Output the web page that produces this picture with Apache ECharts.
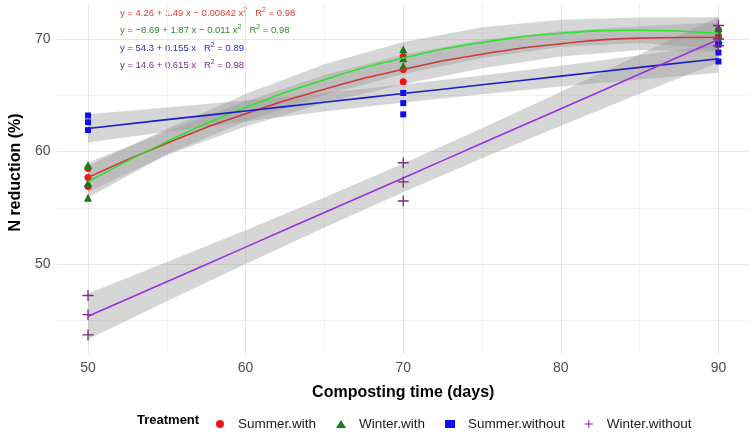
<!DOCTYPE html>
<html>
<head>
<meta charset="utf-8">
<script src="https://cdn.jsdelivr.net/npm/echarts@6/dist/echarts.min.js"></script>
<style>
  html, body { margin: 0; padding: 0; background: #fff; }
  #main { width: 750px; height: 439px; }
</style>
</head>
<body>
<div id="main"></div>
<script>
// sampling days
const days = [50, 70, 90];
// days where the fitted curves / bands were read
const fitDays = [50, 55, 60, 65, 70, 75, 80, 85, 90];

// N reduction (%), three replicates per sampling day
const summerWith = [[58.5, 57.7, 56.9], [68.45, 67.3, 66.2], [70.8, 70.1, 69.6]];
const winterWith = [[58.8, 57.2, 55.9], [69.1, 68.3, 67.6], [71.0, 70.6, 70.0]];
const summerWithout = [[63.2, 62.6, 61.9], [65.2, 64.3, 63.3], [69.5, 68.8, 68.0]];
const winterWithout = [[47.2, 45.5, 43.7], [59.0, 57.3, 55.6], [71.2, 70.0, 69.4]];

// fitted lines
const summerWithFit = [57.7, 60.74, 63.35, 65.54, 67.3, 68.65, 69.57, 70.08, 70.16];
const winterWithFit = [57.31, 60.88, 63.91, 66.38, 68.31, 69.68, 70.51, 70.78, 70.51];
const summerWithoutFit = [62.05, 62.83, 63.6, 64.38, 65.15, 65.93, 66.7, 67.48, 68.25];
const winterWithoutFit = [45.35, 48.43, 51.5, 54.58, 57.65, 60.73, 63.8, 66.88, 69.95];

// confidence bands (lower / upper)
const summerWithLow = [56.38, 59.69, 62.23, 64.28, 65.98, 67.39, 68.45, 69.03, 68.84];
const summerWithHigh = [59.02, 61.79, 64.47, 66.8, 68.62, 69.91, 70.69, 71.13, 71.48];
const winterWithLow = [55.88, 59.74, 62.70, 65.01, 66.88, 68.31, 69.30, 69.64, 69.08];
const winterWithHigh = [58.74, 62.02, 65.12, 67.75, 69.74, 71.05, 71.72, 71.92, 71.94];
const summerWithoutLow = [60.79, 61.75, 62.67, 63.55, 64.35, 65.10, 65.77, 66.40, 66.99];
const summerWithoutHigh = [63.31, 63.91, 64.53, 65.21, 65.95, 66.76, 67.63, 68.56, 69.51];
const winterWithoutLow = [43.32, 46.68, 49.99, 53.24, 56.37, 59.39, 62.29, 65.13, 67.92];
const winterWithoutHigh = [47.38, 50.18, 53.01, 55.92, 58.93, 62.07, 65.31, 68.63, 71.98];

// ticks
const xTicks = [50, 55, 60, 65, 70, 75, 80, 85, 90];
const xLabels = [50, 60, 70, 80, 90];
const yTicks = [45, 50, 55, 60, 65, 70];
const yLabels = [50, 60, 70];

const plusPath = 'path://M4.4,0H5.6V4.4H10V5.6H5.6V10H4.4V5.6H0V4.4H4.4Z';
const groups = [
  { name: 'Summer.with', pts: summerWith, fit: summerWithFit, low: summerWithLow, high: summerWithHigh,
    line: '#d03838', point: '#ee1515', symbol: 'circle', size: 7 },
  { name: 'Winter.with', pts: winterWith, fit: winterWithFit, low: winterWithLow, high: winterWithHigh,
    line: '#2be52b', point: '#1c7a1c', symbol: 'triangle', size: 8 },
  { name: 'Summer.without', pts: summerWithout, fit: summerWithoutFit, low: summerWithoutLow, high: summerWithoutHigh,
    line: '#1c1cc8', point: '#0d0dee', symbol: 'rect', size: 6 },
  { name: 'Winter.without', pts: winterWithout, fit: winterWithoutFit, low: winterWithoutLow, high: winterWithoutHigh,
    line: '#9a2fe6', point: '#7a2a7a', symbol: plusPath, size: 11 }
];

const series = [];
// grey confidence bands, one polygon each
groups.forEach(g => {
  series.push({
    type: 'custom', silent: true,
    data: fitDays.map((d, i) => [d, g.low[i], g.high[i]]),
    encode: { x: 0, y: [1, 2] },
    renderItem: (params, api) => {
      if (params.dataIndex !== 0) return null;
      const top = fitDays.map((d, i) => api.coord([d, g.high[i]]));
      const bottom = fitDays.map((d, i) => api.coord([d, g.low[i]])).reverse();
      return {
        type: 'polygon',
        shape: { points: top.concat(bottom) },
        style: { fill: 'rgba(153,153,153,0.4)' }
      };
    }
  });
});
// fitted lines
groups.forEach(g => {
  series.push({
    type: 'line', smooth: true, symbol: 'none', silent: true,
    lineStyle: { color: g.line, width: 1.6 },
    data: fitDays.map((d, i) => [d, g.fit[i]])
  });
});
// points
groups.forEach(g => {
  const data = [];
  days.forEach((d, i) => g.pts[i].forEach(v => data.push([d, v])));
  series.push({
    name: g.name, type: 'scatter', symbol: g.symbol, symbolSize: g.size,
    itemStyle: { color: g.point, opacity: 1 },
    data: data
  });
});

const eqStyle = {
  i: { fontStyle: 'italic' },
  sup: { fontSize: 7, verticalAlign: 'top', padding: [0, 0, 6, 0] }
};
const equations = [
  ['{i|y} = 4.26 + 1.49 {i|x} \u2212 0.00842 {i|x}{sup|2}   {i|R}{sup|2} = 0.98', '#e23a34', 13],
  ['{i|y} = \u22128.69 + 1.87 {i|x} \u2212 0.011 {i|x}{sup|2}   {i|R}{sup|2} = 0.98', '#2a8a2a', 30],
  ['{i|y} = 54.3 + 0.155 {i|x}   {i|R}{sup|2} = 0.89', '#2a2acc', 47.5],
  ['{i|y} = 14.6 + 0.615 {i|x}   {i|R}{sup|2} = 0.98', '#7a2a7a', 65]
];

const chart = echarts.init(document.getElementById('main'));
chart.setOption({
  animation: false,
  textStyle: { fontFamily: 'Liberation Sans, Arial, sans-serif' },
  grid: { left: 50, right: 0, top: 3, bottom: 85 },
  xAxis: {
    type: 'value', min: 48, max: 92,
    name: 'Composting time (days)', nameLocation: 'middle', nameGap: 31,
    nameTextStyle: { fontSize: 16, fontWeight: 'bold', color: '#000' },
    axisLine: { show: false },
    axisTick: { show: false, customValues: xTicks },
    axisLabel: { customValues: xLabels, fontSize: 14, color: '#4d4d4d', margin: 7 },
    splitLine: { lineStyle: { color: ['#e6e6e6', '#f2f2f2'], width: 1 } }
  },
  yAxis: {
    type: 'value', min: 42, max: 73.2,
    name: 'N reduction (%)', nameLocation: 'middle', nameGap: 29,
    nameTextStyle: { fontSize: 16, fontWeight: 'bold', color: '#000', padding: [0, 0, 0, 12] },
    axisLine: { show: false },
    axisTick: { show: false, customValues: yTicks },
    axisLabel: { customValues: yLabels, fontSize: 14, color: '#4d4d4d', margin: 6 },
    splitLine: { lineStyle: { color: ['#f2f2f2', '#e6e6e6'], width: 1 } }
  },
  legend: {
    left: 211, top: 412, itemGap: 20, itemWidth: 10, itemHeight: 8,
    textStyle: {
      fontSize: 13.5, color: '#1a1a1a',
      rich: { a: { fontSize: 13.5, color: '#1a1a1a', padding: [0, 0, 0, 8] } }
    },
    formatter: name => '{a|' + name + '}',
    data: groups.map(g => ({ name: g.name, icon: g.symbol, itemStyle: { color: g.point } }))
  },
  graphic: [
    { type: 'text', left: 137, top: 414,
      style: { text: 'Treatment', fontSize: 13, fontWeight: 'bold', fill: '#000', fontFamily: 'Liberation Sans' } }
  ].concat(equations.map(e => ({
    type: 'text', left: 120, top: e[2] - 6,
    style: { text: e[0], fill: e[1], fontSize: 9.5, fontFamily: 'Liberation Sans', rich: eqStyle }
  }))),
  series: series
});
</script>
</body>
</html>
